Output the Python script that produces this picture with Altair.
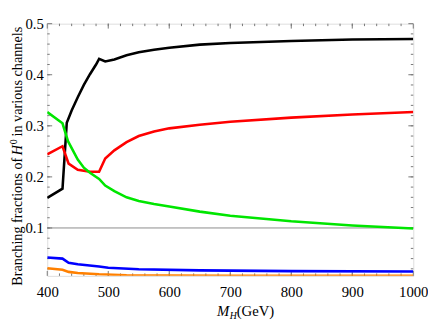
import altair as alt
import pandas as pd

# ---------------- data ----------------
black_m = [400, 425, 432, 440, 450, 460, 470, 480, 485, 495, 510, 530, 550, 575, 600, 650, 700, 800, 900, 1000]
black_v = [0.159, 0.177, 0.306, 0.330, 0.356, 0.380, 0.401, 0.420, 0.431, 0.426, 0.430, 0.438, 0.444, 0.449, 0.453, 0.459, 0.462, 0.466, 0.469, 0.470]

red_m = [400, 425, 435, 450, 470, 485, 495, 510, 530, 550, 575, 600, 650, 700, 800, 900, 1000]
red_v = [0.244, 0.260, 0.226, 0.214, 0.210, 0.210, 0.236, 0.252, 0.268, 0.280, 0.289, 0.295, 0.302, 0.308, 0.316, 0.322, 0.327]

green_m = [400, 425, 434, 450, 460, 470, 485, 495, 510, 530, 550, 575, 600, 650, 700, 800, 900, 1000]
green_v = [0.327, 0.305, 0.270, 0.234, 0.218, 0.208, 0.196, 0.183, 0.172, 0.160, 0.153, 0.147, 0.142, 0.132, 0.124, 0.113, 0.105, 0.099]

blue_m = [400, 425, 435, 450, 485, 500, 550, 650, 800, 1000]
blue_v = [0.042, 0.040, 0.032, 0.029, 0.0245, 0.022, 0.019, 0.017, 0.0155, 0.0148]

orange_m = [400, 425, 435, 450, 485, 530, 600, 700, 1000]
orange_v = [0.021, 0.018, 0.014, 0.012, 0.0095, 0.0075, 0.007, 0.0066, 0.0062]

series_names = ["black", "red", "green", "blue", "orange"]
series_colors = ["#000000", "#ff0000", "#00e600", "#0000ff", "#ff8000"]

x_labels = [400, 500, 600, 700, 800, 900, 1000]
y_labels = [0.1, 0.2, 0.3, 0.4, 0.5]
x_minor = list(range(420, 1000, 20))
y_minor = [round(0.02 * i, 2) for i in range(1, 25)]
ref_level = [0.1]

X_DOMAIN = [400, 1000]
Y_DOMAIN = [0.0062, 0.5]
W, H = 373, 257
FONT = "Liberation Serif"

# ---------------- frames ----------------
rows = []
for name, ms, vs in [("black", black_m, black_v), ("red", red_m, red_v),
                     ("green", green_m, green_v), ("blue", blue_m, blue_v),
                     ("orange", orange_m, orange_v)]:
    for i, (m, v) in enumerate(zip(ms, vs)):
        rows.append({"series": name, "M": m, "BR": v, "order": i})
df = pd.DataFrame(rows)

xs = alt.Scale(domain=X_DOMAIN, nice=False, zero=False)
ys = alt.Scale(domain=Y_DOMAIN, nice=False, zero=False)

xaxis = alt.Axis(values=x_labels, format="d", title=None, domain=False, ticks=False, grid=False,
                 labelFont=FONT, labelFontSize=15, labelColor="black", labelPadding=9,
                 labelFlush=False)
yaxis = alt.Axis(values=y_labels, format=".1f", title=None, domain=False, ticks=False, grid=False,
                 labelFont=FONT, labelFontSize=15, labelColor="black", labelPadding=4)

X = lambda: alt.X("M:Q", scale=xs, axis=xaxis)
Y = lambda: alt.Y("BR:Q", scale=ys, axis=yaxis)

lines = alt.Chart(df).mark_line(strokeWidth=2.6, clip=True).encode(
    x=X(), y=Y(),
    color=alt.Color("series:N", scale=alt.Scale(domain=series_names, range=series_colors), legend=None),
    order="order:Q",
)

ref = alt.Chart(pd.DataFrame({"BR": ref_level})).mark_rule(color="#8c8c8c", strokeWidth=1).encode(y=Y())

tick_color = "#777777"
ymaj = pd.DataFrame({"BR": y_labels})
ymin = pd.DataFrame({"BR": y_minor})
xmaj = pd.DataFrame({"M": x_labels})
xmin = pd.DataFrame({"M": x_minor})

def yticks(d, length):
    left = alt.Chart(d).mark_rule(color=tick_color, strokeWidth=1).encode(
        y=Y(), x=alt.value(0), x2=alt.value(length))
    right = alt.Chart(d).mark_rule(color=tick_color, strokeWidth=1).encode(
        y=Y(), x=alt.value(W), x2=alt.value(W - length))
    return [left, right]

def xticks(d, length):
    bottom = alt.Chart(d).mark_rule(color=tick_color, strokeWidth=1).encode(
        x=X(), y=alt.value(H), y2=alt.value(H - length))
    top = alt.Chart(d).mark_rule(color=tick_color, strokeWidth=1).encode(
        x=X(), y=alt.value(0), y2=alt.value(length))
    return [bottom, top]

tick_layers = yticks(ymaj, 5) + yticks(ymin, 2.5) + xticks(xmaj, 5) + xticks(xmin, 2.5)

# ---------------- titles as text pieces ----------------
def txt(s, x, y, size=15, italic=False, angle=0, align="left", baseline="alphabetic"):
    kw = dict(text=s, font=FONT, fontSize=size, align=align, baseline=baseline, color="black")
    if italic:
        kw["fontStyle"] = "italic"
    if angle:
        kw["angle"] = angle
    return alt.Chart(pd.DataFrame({"a": [0]})).mark_text(**kw).encode(
        x=alt.value(x), y=alt.value(y))

# y title (rotated), view coordinates (page - (48,21))
YT_X = -26
YFS = 14.5
y_title = [
    txt("Branching fractions of", YT_X, 267, size=YFS, angle=270),
    txt("H", YT_X, 134, size=YFS, italic=True, angle=270),
    txt("0", YT_X - 5, 123, size=10, angle=270),
    txt("in various channels", YT_X, 115, size=YFS, angle=270),
]
# x title
x_title = [
    txt("M", 173, 298, italic=True),
    txt("H", 186, 301, size=10, italic=True),
    txt("(GeV)", 193, 298),
]

chart = alt.layer(ref, *tick_layers, lines, *y_title, *x_title).properties(
    width=W, height=H,
    autosize=alt.AutoSizeParams(type="none"),
    padding={"left": 40, "top": 13, "right": 15, "bottom": 42},
).configure_view(stroke="#777777", strokeWidth=1).configure_axis(
    labelFont=FONT, labelFontSize=15, labelColor="black"
).configure(background="white", font=FONT)

chart.save("out.html", embed_options={"renderer": "svg", "actions": False})
